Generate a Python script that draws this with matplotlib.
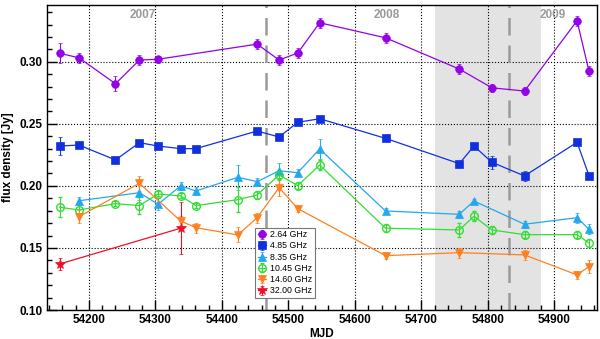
import matplotlib
matplotlib.use('Agg')
import matplotlib.pyplot as plt
from matplotlib.ticker import MultipleLocator

plt.rcParams['font.family'] = ['Liberation Sans', 'DejaVu Sans']

# 2.64 GHz
mjd_264 = [54156, 54185, 54240, 54276, 54304, 54453, 54486, 54514, 54547, 54646, 54757, 54806, 54855, 54934, 54952]
flux_264 = [0.3068, 0.3032, 0.2823, 0.3014, 0.3020, 0.3142, 0.3014, 0.3070, 0.3314, 0.3193, 0.2941, 0.2790, 0.2764, 0.3330, 0.2923]
err_264 = [0.008, 0.004, 0.006, 0.004, 0.003, 0.004, 0.004, 0.004, 0.004, 0.004, 0.004, 0.003, 0.003, 0.004, 0.004]
# 4.85 GHz
mjd_485 = [54156, 54185, 54240, 54276, 54304, 54338, 54361, 54453, 54486, 54514, 54547, 54646, 54757, 54779, 54806, 54855, 54934, 54952]
flux_485 = [0.2321, 0.2329, 0.2209, 0.2348, 0.2321, 0.2300, 0.2300, 0.2442, 0.2394, 0.2512, 0.2541, 0.2383, 0.2179, 0.2321, 0.2190, 0.2080, 0.2351, 0.2082]
err_485 = [0.007, 0.002, 0.002, 0.002, 0.002, 0.002, 0.002, 0.002, 0.002, 0.002, 0.002, 0.002, 0.002, 0.002, 0.005, 0.004, 0.002, 0.002]
# 8.35 GHz
mjd_835 = [54185, 54276, 54304, 54338, 54361, 54424, 54453, 54486, 54514, 54547, 54646, 54757, 54779, 54855, 54934, 54952]
flux_835 = [0.1880, 0.1945, 0.1852, 0.2000, 0.1959, 0.2069, 0.2034, 0.2122, 0.2106, 0.2297, 0.1798, 0.1771, 0.1878, 0.1691, 0.1744, 0.1651]
err_835 = [0.003, 0.006, 0.005, 0.003, 0.003, 0.010, 0.003, 0.006, 0.003, 0.008, 0.002, 0.003, 0.002, 0.003, 0.004, 0.004]
# 10.45 GHz
mjd_1045 = [54156, 54185, 54240, 54276, 54304, 54338, 54361, 54424, 54453, 54486, 54514, 54547, 54646, 54757, 54779, 54806, 54855, 54934, 54952]
flux_1045 = [0.1828, 0.1806, 0.1857, 0.1841, 0.1935, 0.1919, 0.1841, 0.1889, 0.1927, 0.2088, 0.2002, 0.2168, 0.1659, 0.1645, 0.1755, 0.1645, 0.1607, 0.1607, 0.1540]
err_1045 = [0.008, 0.004, 0.002, 0.007, 0.002, 0.002, 0.002, 0.010, 0.003, 0.004, 0.003, 0.004, 0.003, 0.006, 0.004, 0.003, 0.003, 0.003, 0.003]
# 14.60 GHz
mjd_1460 = [54185, 54276, 54338, 54361, 54424, 54453, 54486, 54514, 54646, 54757, 54855, 54934, 54952]
flux_1460 = [0.1752, 0.2021, 0.1717, 0.1663, 0.1605, 0.1744, 0.1986, 0.1817, 0.1438, 0.1462, 0.1444, 0.1283, 0.1350]
err_1460 = [0.005, 0.006, 0.004, 0.004, 0.006, 0.004, 0.007, 0.003, 0.003, 0.004, 0.004, 0.003, 0.005]
# 32.00 GHz
mjd_3200 = [54156, 54338]
flux_3200 = [0.1371, 0.1659]
err_3200 = [0.005, 0.021]

series = [
    ('2.64 GHz', mjd_264, flux_264, err_264, 'o', '#9400e8', True),
    ('4.85 GHz', mjd_485, flux_485, err_485, 's', '#1030e0', True),
    ('8.35 GHz', mjd_835, flux_835, err_835, '^', '#22a8ee', True),
    ('10.45 GHz', mjd_1045, flux_1045, err_1045, 'o', '#33dd33', False),
    ('14.60 GHz', mjd_1460, flux_1460, err_1460, 'v', '#ff8020', True),
    ('32.00 GHz', mjd_3200, flux_3200, err_3200, '*', '#ee1028', True),
]

years = ['2007', '2008', '2009']
year_pos = [54281, 54648, 54898]
shade_span = (54721, 54880)
dash_lines = [54466, 54832]

fig = plt.figure(figsize=(6, 3.39), dpi=100)
ax = fig.add_axes([0.0783, 0.0855, 0.9167, 0.8997])

ax.grid(True, which='major', ls=':', color='black', lw=0.8, zorder=0)
ax.axvspan(*shade_span, color='#e3e3e3', lw=0, zorder=1)
for xv in dash_lines:
    ax.axvline(xv, color='#9a9a9a', lw=1.8, ls=(0, (7, 4)), zorder=2)
for t, xp in zip(years, year_pos):
    ax.text(xp, 0.3375, t, color='#9a9a9a', fontsize=8.5, fontweight='bold',
            ha='center', va='center', zorder=2)

for lab, x, y, e, m, c, filled in series:
    ms = 7.5 if m == '*' else 5.5
    ax.errorbar(x, y, yerr=e, fmt='-', marker=m, color=c, lw=0.9, elinewidth=0.8,
                capsize=1.5, capthick=0.8, ms=ms, mec=c,
                mfc=c if filled else 'none', mew=1.0 if not filled else 0.5,
                label=lab, zorder=3)

ax.set_xlim(54137, 54964)
ax.set_ylim(0.10, 0.3457)
ax.xaxis.set_major_locator(MultipleLocator(100))
ax.xaxis.set_minor_locator(MultipleLocator(20))
ax.yaxis.set_major_locator(MultipleLocator(0.05))
ax.yaxis.set_minor_locator(MultipleLocator(0.01))
ax.tick_params(which='both', direction='in', top=False, right=False, width=1.0)
ax.tick_params(which='major', length=7, labelsize=8.5, pad=3)
ax.tick_params(which='minor', length=3.5)
for lbl in ax.get_xticklabels() + ax.get_yticklabels():
    lbl.set_fontweight('bold')
ax.yaxis.set_major_formatter(matplotlib.ticker.FormatStrFormatter('%.2f'))
for s in ax.spines.values():
    s.set_linewidth(1.0)

ax.set_xlabel('MJD', fontsize=8.5, fontweight='bold', labelpad=1)
ax.set_ylabel('flux density [Jy]', fontsize=8.5, fontweight='bold', labelpad=4)

handles, labels = ax.get_legend_handles_labels()
leg = ax.legend(handles, labels, loc='upper left', bbox_to_anchor=(0.378, 0.27),
                fontsize=6.3, frameon=True, fancybox=False, framealpha=1,
                edgecolor='#777777', borderpad=0.3, labelspacing=0.25,
                handlelength=1.0, handletextpad=0.4, borderaxespad=0)
leg.get_frame().set_linewidth(0.8)
leg.set_zorder(5)

fig.savefig('out.png', dpi=100)
